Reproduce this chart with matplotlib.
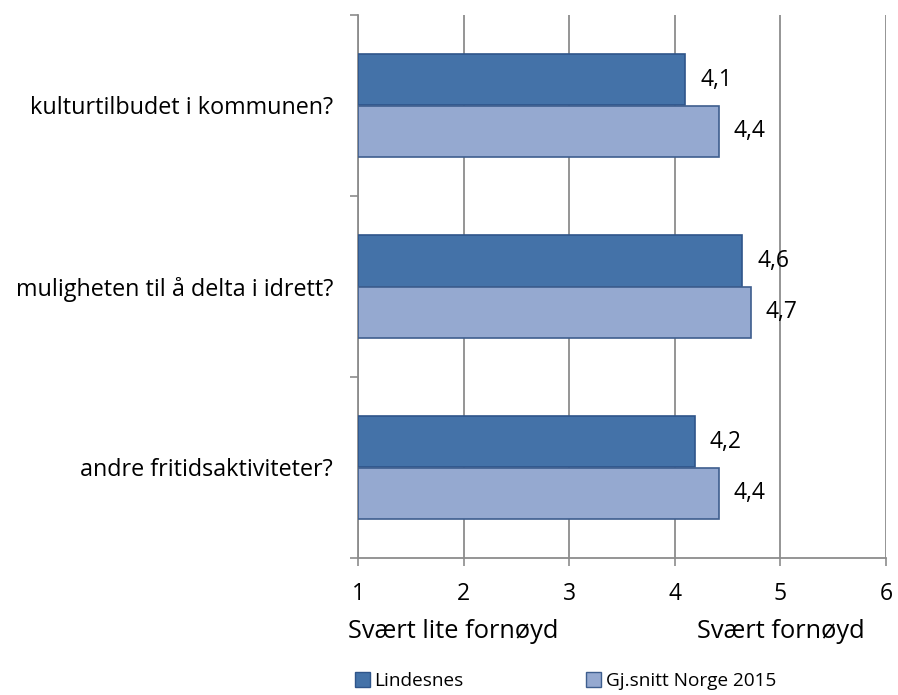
import matplotlib.pyplot as plt
from matplotlib.patches import Patch

categories = ['kulturtilbudet i kommunen?', 'muligheten til å delta i idrett?', 'andre fritidsaktiviteter?']
lindesnes = [4.1, 4.64, 4.19]
norge = [4.42, 4.72, 4.42]
series_names = ['Lindesnes', 'Gj.snitt Norge 2015']
xticks = [1, 2, 3, 4, 5, 6]

plt.rcParams['font.family'] = ['Open Sans', 'DejaVu Sans']

dark = '#4472A8'
dark_edge = '#2F558A'
light = '#95A9D0'
light_edge = '#3E5E8E'
grey = '#8C8C8C'

fig = plt.figure(figsize=(8.98, 6.95), dpi=100)
ax = fig.add_axes([358 / 898, 1 - 558 / 695, 528 / 898, 543 / 695])

h = 0.285
pos = list(range(len(categories)))
y1 = [p - h / 2 for p in pos]
y2 = [p + h / 2 for p in pos]
w1 = [v - 1 for v in lindesnes]
w2 = [v - 1 for v in norge]
ax.barh(y1, w1, height=h, left=1, color=dark, edgecolor=dark_edge, linewidth=1.2, zorder=3)
ax.barh(y2, w2, height=h, left=1, color=light, edgecolor=light_edge, linewidth=1.2, zorder=3)

for y, v in zip(y1, lindesnes):
    ax.text(v + 0.14, y, f'{v:.1f}'.replace('.', ','), va='center', ha='left', fontsize=16.5)
for y, v in zip(y2, norge):
    ax.text(v + 0.14, y, f'{v:.1f}'.replace('.', ','), va='center', ha='left', fontsize=16.5)

ax.set_xlim(1, 6)
ax.set_ylim(2.5, -0.5)
ax.set_xticks(xticks)
ax.set_xticklabels([str(t) for t in xticks], fontsize=16.5)
ax.set_yticks(pos)
ax.set_yticklabels(categories, fontsize=16.8)
ax.set_yticks([-0.5, 0.5, 1.5, 2.5], minor=True)
ax.tick_params(axis='y', which='major', length=0, pad=18)
ax.tick_params(axis='y', which='minor', length=6, width=1.2, color=grey, direction='out')
ax.tick_params(axis='x', length=6, width=1.2, color=grey, direction='out', pad=11)

ax.grid(axis='x', color=grey, linewidth=1.3, zorder=0)
for s in ['top', 'right']:
    ax.spines[s].set_visible(False)
for s in ['left', 'bottom']:
    ax.spines[s].set_color(grey)
    ax.spines[s].set_linewidth(1.3)

fig.text(348 / 898, 1 - 632 / 695, 'Svært lite fornøyd', fontsize=18.3, va='center', ha='left')
fig.text(697 / 898, 1 - 632 / 695, 'Svært fornøyd', fontsize=18.3, va='center', ha='left')

handles = [Patch(facecolor=dark, edgecolor=dark_edge), Patch(facecolor=light, edgecolor=light_edge)]
fig.legend(handles, series_names, ncol=2, loc='center left', bbox_to_anchor=(347 / 898, 1 - 681 / 695),
           frameon=False, fontsize=13.7, handlelength=0.8, handleheight=0.8, handletextpad=0.25,
           columnspacing=6.4, borderaxespad=0)

fig.savefig('out.png', dpi=100)
